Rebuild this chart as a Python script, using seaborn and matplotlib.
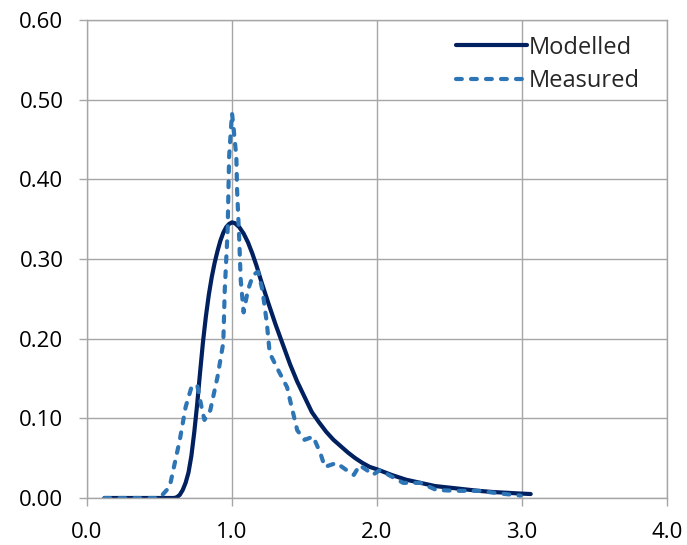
import matplotlib
matplotlib.use("Agg")
import matplotlib.pyplot as plt
import seaborn as sns
import pandas as pd
from matplotlib.ticker import FormatStrFormatter, MultipleLocator

model_x = [0.12, 0.3, 0.5, 0.60, 0.62, 0.64, 0.66, 0.68, 0.70, 0.72, 0.74, 0.76, 0.78, 0.80,
           0.82, 0.84, 0.86, 0.88, 0.90, 0.92, 0.94, 0.96, 0.98, 1.00, 1.02, 1.05, 1.08, 1.11,
           1.14, 1.17, 1.20, 1.25, 1.30, 1.35, 1.40, 1.45, 1.50, 1.55, 1.60, 1.65, 1.70, 1.75,
           1.80, 1.85, 1.90, 1.95, 2.00, 2.1, 2.2, 2.3, 2.4, 2.5, 2.6, 2.7, 2.8, 2.9, 3.0, 3.06]
model_y = [0, 0, 0, 0, 0.001, 0.004, 0.010, 0.019, 0.032, 0.053, 0.083, 0.118, 0.158, 0.196,
           0.228, 0.255, 0.277, 0.295, 0.310, 0.323, 0.333, 0.340, 0.344, 0.346, 0.345, 0.340,
           0.332, 0.321, 0.307, 0.291, 0.273, 0.245, 0.218, 0.193, 0.168, 0.146, 0.127, 0.108,
           0.095, 0.083, 0.073, 0.065, 0.057, 0.050, 0.044, 0.039, 0.036, 0.029, 0.023, 0.019,
           0.015, 0.013, 0.011, 0.009, 0.0075, 0.0065, 0.0055, 0.005]

meas_x = [0.12, 0.3, 0.5, 0.57, 0.64, 0.68, 0.72, 0.76, 0.79, 0.81, 0.85, 0.90, 0.94, 0.95,
          0.97, 0.98, 1.0, 1.01, 1.03, 1.035, 1.05, 1.06, 1.08, 1.11, 1.145, 1.18, 1.21, 1.24,
          1.26, 1.32, 1.38, 1.40, 1.45, 1.50, 1.56, 1.61, 1.64, 1.72, 1.79, 1.84, 1.88, 1.93,
          1.97, 2.02, 2.11, 2.18, 2.30, 2.41, 2.55, 2.71, 2.83, 2.99]
meas_y = [0, 0, 0, 0.014, 0.073, 0.114, 0.139, 0.142, 0.114, 0.098, 0.110, 0.152, 0.195, 0.261,
          0.336, 0.428, 0.483, 0.466, 0.428, 0.387, 0.324, 0.274, 0.233, 0.261, 0.280, 0.284,
          0.261, 0.22, 0.182, 0.160, 0.139, 0.123, 0.085, 0.073, 0.077, 0.056, 0.039, 0.044,
          0.035, 0.029, 0.041, 0.035, 0.029, 0.035, 0.026, 0.019, 0.019, 0.010, 0.009, 0.009,
          0.006, 0.003]

sns.set_style("white")
plt.rcParams['font.family'] = ['Open Sans', 'DejaVu Sans']

fig = plt.figure(figsize=(6.87, 5.45), dpi=100)
ax = fig.add_axes([87/687, 1-498/545, 580/687, 478/545])

dfm = pd.DataFrame({"x": model_x, "y": model_y})
dfs = pd.DataFrame({"x": meas_x, "y": meas_y})
sns.lineplot(data=dfm, x="x", y="y", ax=ax, color="#002060", lw=3.0, label="Modelled",
             solid_capstyle="round", solid_joinstyle="round", sort=False)
sns.lineplot(data=dfs, x="x", y="y", ax=ax, color="#2E75B6", lw=3.0, label="Measured",
             sort=False, dashes=False)
ax.lines[1].set_dashes([1.4, 2.2])
ax.lines[1].set_dash_capstyle("round")
ax.lines[1].set_dash_joinstyle("round")

ax.set_xlim(0, 4)
ax.set_ylim(0, 0.6)
ax.xaxis.set_major_locator(MultipleLocator(1.0))
ax.yaxis.set_major_locator(MultipleLocator(0.1))
ax.xaxis.set_major_formatter(FormatStrFormatter("%.1f"))
ax.yaxis.set_major_formatter(FormatStrFormatter("%.2f"))
ax.grid(True, color="#a6a6a6", lw=1.0)
ax.set_axisbelow(True)
for s in ax.spines.values():
    s.set_color("#a6a6a6")
    s.set_linewidth(1.0)
ax.tick_params(axis="both", which="major", length=6, color="#a6a6a6", width=1.0,
               labelsize=16, labelcolor="black", direction="out", left=True, bottom=True)
ax.tick_params(axis="y", pad=11)
ax.tick_params(axis="x", pad=11)
ax.set_xlabel("")
ax.set_ylabel("")

leg = ax.legend(loc="upper right", bbox_to_anchor=(0.99, 1.012), frameon=False, fontsize=17,
                handlelength=3.0, handletextpad=0.1, labelspacing=0.4)

fig.savefig("out.png", dpi=100)
